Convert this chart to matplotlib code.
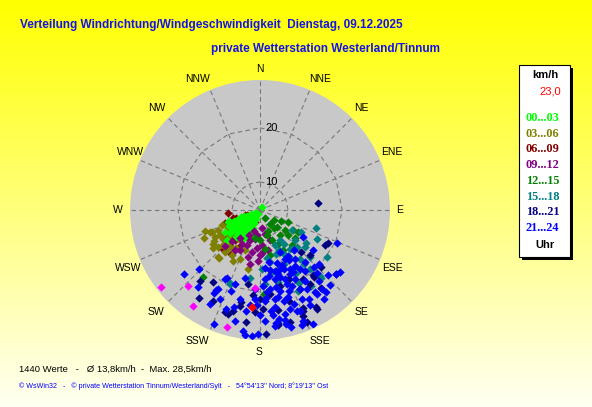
import numpy as np
import matplotlib
matplotlib.use("Agg")
import matplotlib.pyplot as plt
from matplotlib.patches import Rectangle

# Windrichtung (Grad) und Windgeschwindigkeit (km/h), je Zeitraum
dir_00_03 = [250, 245, 240, 235, 230, 225, 220, 215, 210, 205, 200,
             248, 242, 236, 230, 224, 218, 212, 206,
             250, 244, 238, 232, 226, 220, 214, 208, 202,
             246, 240, 233, 226, 219, 212, 205,
             245, 235, 225, 215, 205, 230, 215, 240,
             249, 228, 238, 222, 232, 210, 30,
             247, 238, 228, 218, 208, 243, 233, 223, 213, 242, 232, 222, 212, 203,
             248, 237, 227, 217, 207, 241, 229, 219, 209]
spd_00_03 = [11.0, 10.5, 11.2, 10.8, 10.0, 10.4, 9.8, 9.6, 9.5, 9.8, 9.4,
             9.0, 9.2, 9.0, 9.3, 9.0, 9.1, 8.8, 8.9,
             8.0, 7.8, 8.1, 7.9, 8.0, 7.8, 8.0, 7.9, 8.0,
             6.6, 6.5, 6.7, 6.5, 6.6, 6.4, 6.6,
             5.0, 5.2, 5.0, 5.1, 5.0, 3.3, 3.0, 3.5,
             11.3, 13.5, 12.8, 11.8, 12.2, 10.9, 2.8,
             10.0, 10.3, 10.6, 10.3, 10.2, 11.5, 11.6, 11.0, 10.8, 8.5, 8.6, 8.4, 8.4, 8.6,
             7.2, 7.2, 7.3, 7.1, 7.3, 5.8, 5.9, 5.8, 5.9]

dir_03_06 = [249, 245, 244.5, 232, 228, 220, 220.6, 225, 240.6, 248.5, 239, 234, 221,
             213.7, 212, 191, 202, 246, 231, 222, 200.6, 238, 238, 220, 212, 226.6,
             236, 229, 216, 243, 208]
spd_03_06 = [16.2, 15.0, 13.8, 14.0, 15.6, 15.3, 13.7, 11.5, 11.9, 12.7, 14.9, 16.0, 16.9,
             11.7, 15.0, 16.4, 15.1, 15.3, 16.5, 16.9, 13.1, 12.7, 13.9, 14.4, 13.5, 14.6,
             15.5, 12.8, 14.0, 16.8, 16.0]

dir_06_09 = [265, 252, 249, 225, 210, 214, 252, 223, 243, 231, 247, 214,
             202.6, 236, 220, 231, 253.5, 250, 243, 223, 218, 233, 244]
spd_06_09 = [10.9, 9.3, 6.4, 12.5, 13.3, 15.0, 6.8, 15.0, 8.5, 10.0, 10.5, 10.4,
             6.0, 6.4, 12.3, 12.7, 10.0, 12.1, 11.1, 15.2, 9.4, 7.5, 10.2]

dir_09_12 = [198, 207, 180, 169, 224, 189.5, 176.7, 190.8, 215.5, 212, 194, 182,
             169, 161.6, 174, 207, 190, 200, 185, 205, 195, 222, 186, 178]
spd_09_12 = [10.8, 13.5, 13.5, 9.2, 14.6, 10.4, 11.5, 13.1, 11.3, 13.9, 14.3, 14.8,
             12.7, 10.8, 7.5, 12.3, 15.5, 12.0, 12.2, 9.8, 8.6, 13.0, 9.4, 13.2]

dir_12_15 = [146, 129, 129, 153, 173, 121, 220, 177, 124, 141, 113, 137.6, 167.5, 180,
             160, 150, 120, 148, 135, 190, 142, 132, 158, 165, 118]
spd_12_15 = [7.3, 10.8, 13.5, 12.3, 12.5, 12.3, 20.9, 20.3, 7.3, 10.8, 10.5, 13.9, 13.7, 10.4,
             8.7, 13.7, 13.3, 4.9, 9.2, 10.0, 8.7, 12.0, 11.0, 9.5, 9.0]

dir_15_18 = [118, 108, 117, 126, 125, 138, 146, 163, 202, 188, 141, 151, 157, 143, 141,
             155.6, 169, 130.6, 146, 130, 164.5, 178, 140, 122, 176, 155, 138, 202,
             160, 150, 135, 170, 158, 145, 148, 155, 162, 140, 133, 152, 166, 172]
spd_15_18 = [13.9, 16.2, 17.1, 15.8, 20.0, 21.4, 21.5, 21.6, 19.7, 17.8, 17.9, 14.6, 12.1, 14.4, 16.9,
             16.2, 15.0, 13.7, 11.7, 16.0, 17.5, 16.2, 19.2, 12.1, 18.7, 21.2, 21.1, 19.5,
             14.0, 18.5, 15.0, 17.0, 19.0, 13.0, 15.8, 13.5, 16.5, 14.8, 17.8, 20.0, 18.8, 14.2]

dir_18_21 = [83, 116, 130, 142, 150, 156, 177, 197, 215, 220, 192, 187, 195, 158, 171, 141,
             136, 132, 118, 133, 213, 207.5, 191.5, 183, 171, 165, 157, 157.4, 150, 141,
             199, 157, 173, 153, 180, 146, 189, 165, 178, 162, 148, 185, 170]
spd_18_21 = [16.1, 18.9, 22.6, 22.6, 24.4, 23.7, 26.1, 24.0, 23.7, 21.7, 22.4, 24.6, 23.3, 24.8, 24.8, 20.6,
             16.1, 17.6, 18.7, 20.2, 20.6, 23.1, 21.8, 23.0, 25.1, 25.0, 24.1, 25.7, 24.7, 20.3,
             23.9, 18.9, 20.4, 21.0, 21.1, 21.1, 18.9, 19.5, 22.5, 22.0, 19.8, 20.5, 23.0]

dir_21_24 = [230, 226, 219, 209, 208, 206, 202, 187, 181, 172, 167, 160, 155, 142, 113, 128, 188,
             153, 145, 139, 170.5, 161.6, 153, 146, 136.5, 176, 168, 160, 153, 148, 140,
             183.6, 173, 166, 160, 153.4, 192.5, 183, 177, 170.5, 165, 160, 199, 188, 174,
             166.6, 158.6, 192.6, 177.4, 170, 154.5, 139, 122, 127,
             209, 204, 200, 208, 198.4, 206.6, 192.4,
             144, 145.7, 151, 159, 165, 172.7, 183.6, 132.5, 137, 130,
             158, 163, 150, 168, 175, 157, 162, 171, 178, 165, 155, 148, 180, 186, 195, 163, 155, 149,
             175, 170, 162, 148, 158, 166, 172, 152, 144, 160, 168, 176, 182, 173, 167, 160, 152,
             146, 141, 138, 134]
spd_21_24 = [22.6, 20.5, 22.5, 22.0, 21.1, 18.9, 25.9, 26.4, 26.1, 24.8, 25.2, 25.8, 26.4, 22.8, 20.3, 22.9, 25.9,
             15.5, 16.4, 17.8, 16.4, 16.7, 17.5, 18.2, 19.5, 17.9, 18.2, 18.6, 19.2, 20.3, 21.6,
             19.5, 19.6, 20.2, 20.6, 21.0, 21.4, 21.1, 21.4, 21.3, 21.8, 22.7, 23.4, 23.0, 22.9,
             23.7, 24.0, 24.7, 24.3, 24.3, 13.8, 15.0, 14.6, 17.5,
             21.4, 22.3, 20.6, 23.6, 19.4, 19.2, 17.9,
             24.1, 23.0, 23.0, 25.4, 25.7, 25.1, 26.4, 19.6, 23.0, 22.6,
             17.0, 18.0, 16.0, 19.5, 20.0, 20.0, 21.5, 22.5, 19.0, 17.2, 18.2, 17.3, 23.5, 22.0, 22.8, 23.2, 22.5, 21.5,
             16.0, 15.0, 15.5, 15.2, 16.2, 16.9, 17.5, 18.0, 19.0, 19.4, 21.0, 21.0, 22.0, 23.6, 24.5, 23.8, 23.8,
             22.5, 23.5, 20.5, 21.8]

dir_extra = [232, 223.5, 215, 195.6, 183.6]
spd_extra = [26.3, 23.4, 25.1, 25.8, 19.3]
dir_now = [185]
spd_now = [22.3]

zeitraeume = ["00...03", "03...06", "06...09", "09...12", "12...15", "15...18", "18...21", "21...24"]
farben = ["#00ff00", "#808000", "#800000", "#800080", "#008000", "#008080", "#000080", "#0000ff"]
richtungen = ["N", "NNE", "NE", "ENE", "E", "ESE", "SE", "SSE",
              "S", "SSW", "SW", "WSW", "W", "WNW", "NW", "NNW"]
ringe = [10, 20]
r_max = 26.9

W, H = 592, 407
fig = plt.figure(figsize=(W / 100, H / 100), dpi=100)

# Hintergrund mit Farbverlauf
bg = fig.add_axes([0, 0, 1, 1])
t = np.linspace(0, 1, 200)[:, None] * np.ones((1, 2))
img = np.dstack([np.ones_like(t), np.ones_like(t), np.clip(t * 0.95, 0, 1)])
bg.imshow(img, extent=(0, W, H, 0), aspect="auto", interpolation="bilinear")
bg.set_xlim(0, W)
bg.set_ylim(H, 0)
bg.axis("off")

# Polardiagramm
cx, cy, rad = 260, 210, 130
ax = fig.add_axes([(cx - rad) / W, (H - cy - rad) / H, 2 * rad / W, 2 * rad / H], projection="polar")
ax.set_facecolor("#c8c8c8")
ax.set_theta_zero_location("N")
ax.set_theta_direction(-1)
ax.set_rscale("function", functions=(lambda v: np.power(np.clip(v, 0, None), 1.55),
                                     lambda v: np.power(np.clip(v, 0, None), 1 / 1.55)))
ax.set_rlim(0, r_max)
ax.grid(False)
ax.set_xticks([])
ax.set_yticks([])
ax.spines["polar"].set_visible(False)

winkel = np.deg2rad(np.arange(0, 360, 22.5))
for w in winkel:
    ax.plot([w, w], [0, r_max], color="#777777", lw=0.8, ls=(0, (4, 3)), zorder=1)
for r in ringe:
    ww = np.append(winkel, winkel[0])
    ax.plot(ww, [r] * len(ww), color="#777777", lw=0.8, ls=(0, (4, 3)), zorder=1)
    ax.annotate(str(r), (0, r), xytext=(4, 0), textcoords="offset points", ha="left", va="center",
                fontsize=8, family="Liberation Sans", color="black", zorder=2)

daten = [(dir_00_03, spd_00_03), (dir_03_06, spd_03_06), (dir_06_09, spd_06_09), (dir_09_12, spd_09_12),
         (dir_12_15, spd_12_15), (dir_15_18, spd_15_18), (dir_18_21, spd_18_21), (dir_21_24, spd_21_24)]
# Reihenfolge: 06-09 und 03-06 zuerst, damit der 00-03 Keil sichtbar bleibt
reihenfolge = [2, 1, 0, 3, 4, 5, 6, 7]
for i in reihenfolge:
    d, s = daten[i]
    ax.scatter(np.deg2rad(d), s, marker="D", s=18, color=farben[i], linewidths=0, zorder=3)
ax.scatter(np.deg2rad(dir_extra), spd_extra, marker="D", s=18, color="#ff00ff", linewidths=0, zorder=4)
ax.scatter(np.deg2rad(dir_now), spd_now, marker="D", s=20, color="#ff0000", linewidths=0, zorder=5)

# Beschriftung der Himmelsrichtungen (Pixelpositionen)
label_pos = [(260, 69), (320, 79), (361, 108), (392, 152), (400, 210), (392, 268), (361, 312), (320, 341),
             (259, 352), (197, 341), (156, 312), (128, 268), (118, 210), (130, 152), (157, 108), (197, 79)]
for name, (x, y) in zip(richtungen, label_pos):
    bg.text(x, y, name, ha="center", va="center", fontsize=7.5, family="Liberation Sans", color="black")

# Titel
bg.text(20, 25, "Verteilung Windrichtung/Windgeschwindigkeit  Dienstag, 09.12.2025", ha="left", va="center",
        fontsize=8.5, fontweight="bold", family="Liberation Sans", color="#1414e6")
bg.text(211, 49, "private Wetterstation Westerland/Tinnum", ha="left", va="center",
        fontsize=8.5, fontweight="bold", family="Liberation Sans", color="#1414e6")

# Legende
bg.add_patch(Rectangle((522, 68), 51, 192, facecolor="black", edgecolor="none"))
bg.add_patch(Rectangle((519, 65), 51, 192, facecolor="white", edgecolor="black", lw=0.8))
bg.text(545, 75, "km/h", ha="center", va="center", fontsize=8, fontweight="bold", family="Liberation Sans")
bg.text(561, 92, "23,0", ha="right", va="center", fontsize=8, family="Liberation Sans", color="red")
for i, (lab, c) in enumerate(zip(zeitraeume, farben)):
    bg.text(526, 118 + i * 15.7, lab, ha="left", va="center", fontsize=8.8, fontweight="bold",
            family="Liberation Serif", color=c)
bg.text(545, 245, "Uhr", ha="center", va="center", fontsize=8, fontweight="bold", family="Liberation Sans")

# Fusszeilen
bg.text(19, 369, "1440 Werte   -   Ø 13,8km/h  -  Max. 28,5km/h", ha="left", va="center",
        fontsize=6.8, family="Liberation Sans", color="black")
bg.text(19, 386, "© WsWin32   -   © private Wetterstation Tinnum/Westerland/Sylt   -   54°54'13'' Nord; 8°19'13'' Ost",
        ha="left", va="center", fontsize=5.1, family="Liberation Sans", color="#0000ff")

fig.savefig("out.png", dpi=100)
